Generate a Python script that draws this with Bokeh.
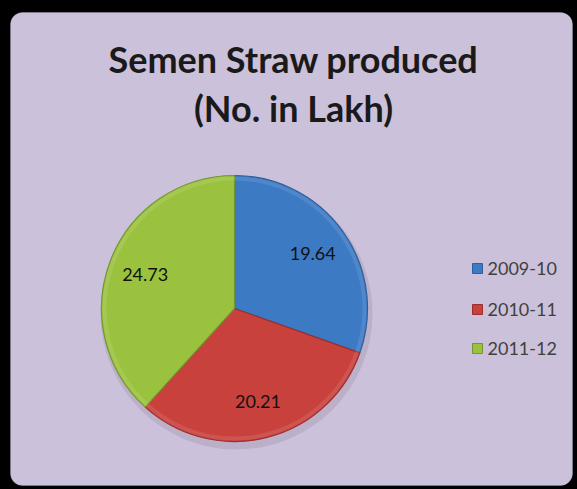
import numpy as np
from bokeh.plotting import figure
from bokeh.models import ColumnDataSource, BoxAnnotation
from bokeh.embed import file_html
from bokeh.resources import INLINE
from bokeh.core.properties import value

# ---- data ----
years = ["2009-10", "2010-11", "2011-12"]
straws = [19.64, 20.21, 24.73]
colors = ["#3D7AC4", "#C8413D", "#9AC23F"]
edge_colors = ["#2E5F9C", "#9C2F2C", "#76972F"]
title_lines = ["Semen Straw produced", "(No. in Lakh)"]

# ---- canvas (data units == pixels) ----
W, H = 577, 489


def px(X):  # page x -> data x
    return X


def py(Y):  # page y -> data y
    return H - Y


p = figure(width=W, height=H, x_range=(0, W), y_range=(0, H),
           output_backend="svg", toolbar_location=None,
           x_axis_location=None, y_axis_location=None,
           min_border=0, outline_line_color=None,
           background_fill_color="black", border_fill_color="black")
p.grid.visible = False

# purple rounded panel
panel = BoxAnnotation(left=px(10), right=px(572), top=py(12), bottom=py(485),
                      fill_color="#CCC1DA", fill_alpha=1.0,
                      line_color="#B8AECB", line_width=1,
                      border_radius=12, level="underlay")
p.add_layout(panel)

# ---- pie ----
cx, cy, R = px(234), py(308), 133
vals = np.array(straws, dtype=float)
frac = vals / vals.sum()
cum = np.concatenate([[0.0], np.cumsum(frac)])
start = np.pi / 2 - cum[:-1] * 2 * np.pi
end = np.pi / 2 - cum[1:] * 2 * np.pi
mid = (start + end) / 2

src = ColumnDataSource(dict(year=years, val=straws, start=start, end=end,
                            color=colors, edge=edge_colors,
                            lx=cx + 0.72 * R * np.cos(mid),
                            ly=cy + 0.72 * R * np.sin(mid),
                            lab=["%.2f" % v for v in straws]))

# soft shadow
p.ellipse(x=cx + 2, y=cy - 5, width=2 * R + 6, height=2 * R + 6,
          fill_color="#8A7F99", fill_alpha=0.25, line_color=None)

p.wedge(x=cx, y=cy, radius=R, start_angle="start", end_angle="end",
        direction="clock", fill_color="color", line_color="edge",
        line_width=1.2, source=src)
# subtle bevel highlight along rim
p.annular_wedge(x=cx, y=cy, inner_radius=R - 5, outer_radius=R - 1,
                start_angle="start", end_angle="end", direction="clock",
                fill_color="white", fill_alpha=0.10, line_color=None,
                source=src)

p.text(x="lx", y="ly", text="lab", source=src,
       text_font=value("Lato"), text_font_size="18px",
       text_color="#111111", text_align="center", text_baseline="middle")

# ---- legend (manual) ----
leg_y = [py(268), py(309), py(348)]
leg = ColumnDataSource(dict(x=[px(477)] * 3, y=leg_y, color=colors,
                            edge=edge_colors, tx=[px(487)] * 3, label=years))
p.scatter(x="x", y="y", marker="square", size=10, fill_color="color",
          line_color="edge", line_width=1, source=leg)
p.text(x="tx", y="y", text="label", source=leg,
       text_font=value("Lato"), text_font_size="18px",
       text_color="#404040", text_align="left", text_baseline="middle")

# ---- title ----
ttl = ColumnDataSource(dict(x=[px(293)] * 2, y=[py(58), py(107)],
                            text=title_lines))
p.text(x="x", y="y", text="text", source=ttl,
       text_font=value("Lato"), text_font_style="bold",
       text_font_size="36px", text_color="#1A1A1A",
       text_align="center", text_baseline="middle")

html = file_html(p, INLINE)
html = html.replace("</head>", "<style>html,body{background:#000;}</style></head>", 1)
open("out.html", "w").write(html)
